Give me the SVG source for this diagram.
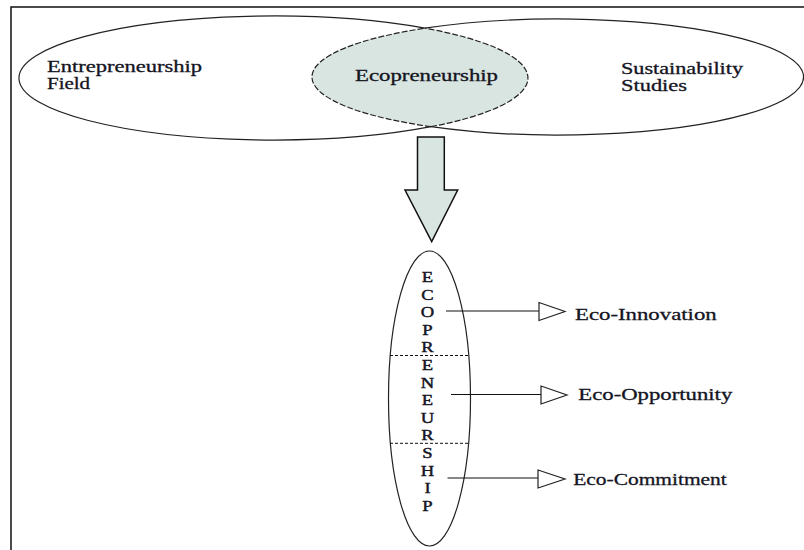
<svg xmlns="http://www.w3.org/2000/svg" width="804" height="550" viewBox="0 0 804 550">
<style>
  .lbl { font-family: "Liberation Serif", "Times New Roman", serif; fill: #15151f; stroke: #15151f; stroke-width: 0.3; }
  .top { font-size: 16px; }
  .side { font-size: 16.5px; }
  .vl { font-size: 15.5px; text-anchor: middle; stroke-width: 0.45; }
  .solid { fill: none; stroke: #222; stroke-width: 1.2; }
  .dash { fill: none; stroke: #222; stroke-width: 1.2; stroke-dasharray: 6 2; }
  .sep { fill: none; stroke: #111; stroke-width: 1; stroke-dasharray: 3 2; }
  .conn { stroke: #111; stroke-width: 1.2; fill: none; }
  .tri { fill: #fff; stroke: #222; stroke-width: 1.2; stroke-linejoin: miter; }
</style>
<rect width="804" height="550" fill="#fff"/>
<g id="frame">
  <path d="M11,550 V7 H804" fill="none" stroke="#111" stroke-width="1.5"/>
</g>
<g id="lens">
  <path d="M425,28.2 A245.8,58 0 0 0 431,126.7 A254.5,62 0 0 0 425,28.2 Z" fill="#d9e5e1" stroke="none"/>
  <path class="dash" d="M431,126.7 A245.8,58 0 0 1 425,28.2"/>
  <path class="dash" d="M431,126.7 A254.5,62 0 0 0 425,28.2"/>
  <text class="lbl top" x="355" y="80.5" textLength="143" lengthAdjust="spacingAndGlyphs">Ecopreneurship</text>
</g>
<g id="entrepreneurship-field">
  <path class="solid" d="M425,28.2 A254.5,62 0 1 0 431,126.7"/>
  <text class="lbl top" x="47" y="71.5" textLength="155" lengthAdjust="spacingAndGlyphs">Entrepreneurship</text>
  <text class="lbl top" x="47" y="88.5" textLength="43" lengthAdjust="spacingAndGlyphs">Field</text>
</g>
<g id="sustainability-studies">
  <path class="solid" d="M425,28.2 A245.8,58 0 1 1 431,126.7"/>
  <text class="lbl top" x="621" y="74" textLength="122" lengthAdjust="spacingAndGlyphs">Sustainability</text>
  <text class="lbl top" x="621" y="90.5" textLength="66" lengthAdjust="spacingAndGlyphs">Studies</text>
</g>
<g id="down-arrow">
  <path d="M417.5,137 H444.3 V190 H457.7 L431.7,241.7 L405,190 H417.5 Z" fill="#d9e5e1" stroke="#111" stroke-width="1.5" stroke-linejoin="miter"/>
</g>
<g id="ecopreneurship-column">
  <ellipse class="solid" cx="429.5" cy="398.5" rx="41" ry="147.5"/>
  <line class="sep" x1="390" y1="355.5" x2="469" y2="355.5"/>
  <line class="sep" x1="390" y1="443.3" x2="469" y2="443.3"/>
  <g transform="translate(427.5,0) scale(1.2,1) translate(-427.5,0)">
    <text class="lbl vl" x="427.5" y="282">E</text>
    <text class="lbl vl" x="427.5" y="299.6">C</text>
    <text class="lbl vl" x="427.5" y="317.2">O</text>
    <text class="lbl vl" x="427.5" y="334.8">P</text>
    <text class="lbl vl" x="427.5" y="352.4">R</text>
    <text class="lbl vl" x="427.5" y="370">E</text>
    <text class="lbl vl" x="427.5" y="387.6">N</text>
    <text class="lbl vl" x="427.5" y="405.2">E</text>
    <text class="lbl vl" x="427.5" y="422.8">U</text>
    <text class="lbl vl" x="427.5" y="440.4">R</text>
    <text class="lbl vl" x="427.5" y="458">S</text>
    <text class="lbl vl" x="427.5" y="475.6">H</text>
    <text class="lbl vl" x="427.5" y="493.2">I</text>
    <text class="lbl vl" x="427.5" y="510.8">P</text>
  </g>
</g>
<g id="connectors">
  <line class="conn" x1="446" y1="311" x2="539" y2="311"/>
  <polygon class="tri" points="539,302.5 539,320.5 565,311.5"/>
  <line class="conn" x1="451" y1="394.5" x2="541" y2="394.5"/>
  <polygon class="tri" points="541,386 541,404 567,395"/>
  <line class="conn" x1="447.5" y1="478" x2="538" y2="478"/>
  <polygon class="tri" points="538,470 538,488 565,479"/>
</g>
<g id="eco-innovation">
  <text class="lbl side" x="575" y="320" textLength="141.7" lengthAdjust="spacingAndGlyphs">Eco-Innovation</text>
</g>
<g id="eco-opportunity">
  <text class="lbl side" x="578.3" y="399.5" textLength="154" lengthAdjust="spacingAndGlyphs">Eco-Opportunity</text>
</g>
<g id="eco-commitment">
  <text class="lbl side" x="573.3" y="485" textLength="153.4" lengthAdjust="spacingAndGlyphs">Eco-Commitment</text>
</g>
</svg>
